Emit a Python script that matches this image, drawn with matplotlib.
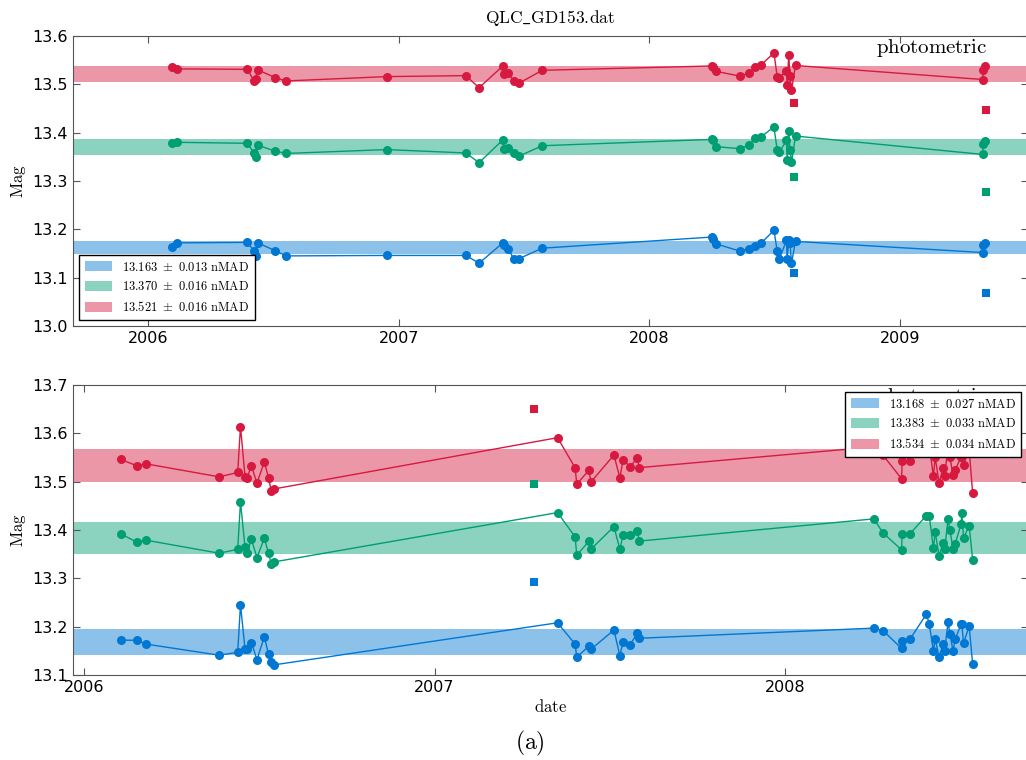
import matplotlib
matplotlib.use("Agg")
import matplotlib.pyplot as plt

# ---- data (decimal year, magnitude) ----
# upper panel: one epoch list shared by the three bands
top_dates = [2006.093, 2006.116, 2006.395, 2006.422, 2006.428, 2006.436, 2006.506, 2006.549,
             2006.951, 2007.267, 2007.320, 2007.415, 2007.421, 2007.437, 2007.458, 2007.478,
             2007.572, 2008.248, 2008.255, 2008.265, 2008.361, 2008.398, 2008.421, 2008.445,
             2008.497, 2008.510, 2008.519, 2008.547, 2008.550, 2008.556, 2008.561, 2008.567,
             2008.583, 2009.330, 2009.333, 2009.339]
top_blue = [13.163, 13.172, 13.173, 13.155, 13.145, 13.172, 13.156, 13.145,
            13.146, 13.146, 13.130, 13.172, 13.167, 13.160, 13.139, 13.139,
            13.161, 13.184, 13.181, 13.170, 13.155, 13.160, 13.166, 13.171,
            13.198, 13.155, 13.139, 13.177, 13.139, 13.178, 13.172, 13.130,
            13.175, 13.152, 13.167, 13.171]
top_green = [13.378, 13.380, 13.378, 13.358, 13.349, 13.374, 13.362, 13.357,
             13.365, 13.358, 13.338, 13.385, 13.366, 13.369, 13.357, 13.351,
             13.373, 13.386, 13.384, 13.371, 13.367, 13.374, 13.388, 13.391,
             13.412, 13.364, 13.360, 13.384, 13.343, 13.404, 13.364, 13.339,
             13.393, 13.355, 13.376, 13.382]
top_red = [13.536, 13.532, 13.531, 13.507, 13.512, 13.530, 13.514, 13.507,
           13.516, 13.518, 13.493, 13.538, 13.521, 13.523, 13.507, 13.502,
           13.529, 13.538, 13.536, 13.527, 13.517, 13.523, 13.535, 13.540,
           13.565, 13.516, 13.514, 13.528, 13.498, 13.561, 13.517, 13.488,
           13.539, 13.510, 13.529, 13.538]
top_out_dates = [2008.577, 2009.345]
top_out_blue = [13.109, 13.069]
top_out_green = [13.308, 13.277]
top_out_red = [13.462, 13.447]
top_centre = [13.163, 13.370, 13.521]
top_nmad = [0.013, 0.016, 0.016]

# lower panel
bot_dates = [2006.104, 2006.150, 2006.176, 2006.385, 2006.438, 2006.446, 2006.459, 2006.465,
             2006.477, 2006.493, 2006.514, 2006.526, 2006.534, 2006.542, 2007.351, 2007.401,
             2007.406, 2007.441, 2007.446, 2007.512, 2007.529, 2007.538, 2007.558, 2007.579,
             2007.584, 2008.254, 2008.280, 2008.333, 2008.335, 2008.357, 2008.404, 2008.412,
             2008.424, 2008.429, 2008.440, 2008.452, 2008.456, 2008.466, 2008.471, 2008.480,
             2008.486, 2008.503, 2008.505, 2008.510, 2008.526, 2008.536]
bot_blue = [13.172, 13.172, 13.164, 13.141, 13.147, 13.245, 13.153, 13.153,
            13.167, 13.132, 13.179, 13.143, 13.126, 13.121, 13.208, 13.164,
            13.137, 13.160, 13.153, 13.193, 13.140, 13.169, 13.163, 13.186,
            13.176, 13.197, 13.192, 13.155, 13.170, 13.174, 13.226, 13.206,
            13.150, 13.174, 13.138, 13.164, 13.150, 13.210, 13.185, 13.150,
            13.174, 13.205, 13.205, 13.166, 13.201, 13.123]
bot_green = [13.392, 13.375, 13.379, 13.352, 13.360, 13.458, 13.364, 13.352,
             13.381, 13.343, 13.383, 13.352, 13.330, 13.334, 13.436, 13.386,
             13.348, 13.377, 13.360, 13.407, 13.360, 13.390, 13.390, 13.397,
             13.377, 13.423, 13.394, 13.359, 13.391, 13.392, 13.430, 13.430,
             13.362, 13.396, 13.347, 13.374, 13.360, 13.423, 13.400, 13.361,
             13.371, 13.412, 13.436, 13.383, 13.409, 13.338]
bot_red = [13.546, 13.533, 13.537, 13.510, 13.519, 13.614, 13.510, 13.508,
           13.533, 13.497, 13.541, 13.508, 13.480, 13.485, 13.591, 13.529,
           13.495, 13.524, 13.499, 13.555, 13.508, 13.545, 13.531, 13.549,
           13.529, 13.572, 13.555, 13.506, 13.543, 13.543, 13.580, 13.575,
           13.511, 13.551, 13.498, 13.528, 13.512, 13.576, 13.551, 13.514,
           13.524, 13.551, 13.582, 13.535, 13.566, 13.477]
bot_out_dates = [2007.284]
bot_out_blue = [13.292]
bot_out_green = [13.495]
bot_out_red = [13.650]
bot_centre = [13.168, 13.383, 13.534]
bot_nmad = [0.027, 0.033, 0.034]

year_ticks = [2006, 2007, 2008, 2009]

line_colors = ["#0077d2", "#009e73", "#d7193f"]
band_alpha = 0.45

plt.rcParams["mathtext.fontset"] = "cm"
plt.rcParams["font.size"] = 11.5
plt.rcParams["axes.edgecolor"] = "#555555"
plt.rcParams["xtick.direction"] = "in"
plt.rcParams["ytick.direction"] = "in"
plt.rcParams["xtick.top"] = True
plt.rcParams["ytick.right"] = True


def draw_panel(ax, dates, series, out_dates, outliers, centres, nmads, xlim, ylim, yticks, legend_loc, anchor):
    handles = []
    for mags, out, c0, s, col in zip(series, outliers, centres, nmads, line_colors):
        h = ax.axhspan(c0 - s, c0 + s, color=col, alpha=band_alpha, lw=0,
                       label=r"$%.3f\ \pm\ %.3f\ \mathrm{nMAD}$" % (c0, s))
        handles.append(h)
        ax.plot(dates, mags, "-o", color=col, lw=1.0, ms=6.5, mew=0)
        ax.plot(out_dates, out, "s", color=col, ms=6, mew=0)
    ax.text(0.958, 0.941, r"$\mathrm{photometric}$", transform=ax.transAxes,
            ha="right", va="baseline", fontsize=15, zorder=1)
    ticks = [y for y in year_ticks if xlim[0] <= y <= xlim[1]]
    ax.set_xticks(ticks)
    ax.set_xticklabels([str(y) for y in ticks])
    ax.set_yticks(yticks)
    ax.set_yticklabels(["%.1f" % v for v in yticks])
    ax.set_xlim(xlim)
    ax.set_ylim(ylim)
    ax.tick_params(length=5, width=0.8, color="#555555")
    ax.set_ylabel(r"$\mathrm{Mag}$", fontsize=12, labelpad=3)
    leg = ax.legend(handles=handles, loc=legend_loc, bbox_to_anchor=anchor, borderaxespad=0,
                    fontsize=9, fancybox=False, framealpha=1, edgecolor="black",
                    handlelength=2.2, handleheight=0.9, borderpad=0.45, labelspacing=0.55)
    leg.get_frame().set_linewidth(1.0)
    leg.set_zorder(10)


fig = plt.figure(figsize=(10.26, 7.6), dpi=100)
ax1 = fig.add_axes([72.7 / 1026, 1 - 326 / 760, (1028 - 72.7) / 1026, 290 / 760])
ax2 = fig.add_axes([72.7 / 1026, 1 - 675 / 760, (1028 - 72.7) / 1026, 290 / 760])

draw_panel(ax1, top_dates, [top_blue, top_green, top_red], top_out_dates,
           [top_out_blue, top_out_green, top_out_red], top_centre, top_nmad,
           (2005.698, 2009.511), (13.0, 13.6), [13.0, 13.1, 13.2, 13.3, 13.4, 13.5, 13.6],
           "lower left", (0.0066, 0.0207))
draw_panel(ax2, bot_dates, [bot_blue, bot_green, bot_red], bot_out_dates,
           [bot_out_blue, bot_out_green, bot_out_red], bot_centre, bot_nmad,
           (2005.967, 2008.694), (13.1, 13.7), [13.1, 13.2, 13.3, 13.4, 13.5, 13.6, 13.7],
           "upper right", (0.9927, 0.9759))

ax1.set_title(r"$\mathrm{QLC\_GD153.\!dat}$", fontsize=12.5, pad=9)
ax2.set_xlabel(r"$\mathrm{date}$", fontsize=12, labelpad=2)
fig.text(530 / 1026, 1 - 743 / 760, r"$\mathrm{(a)}$", ha="center", va="center", fontsize=17)

fig.savefig("out.png", dpi=100)
